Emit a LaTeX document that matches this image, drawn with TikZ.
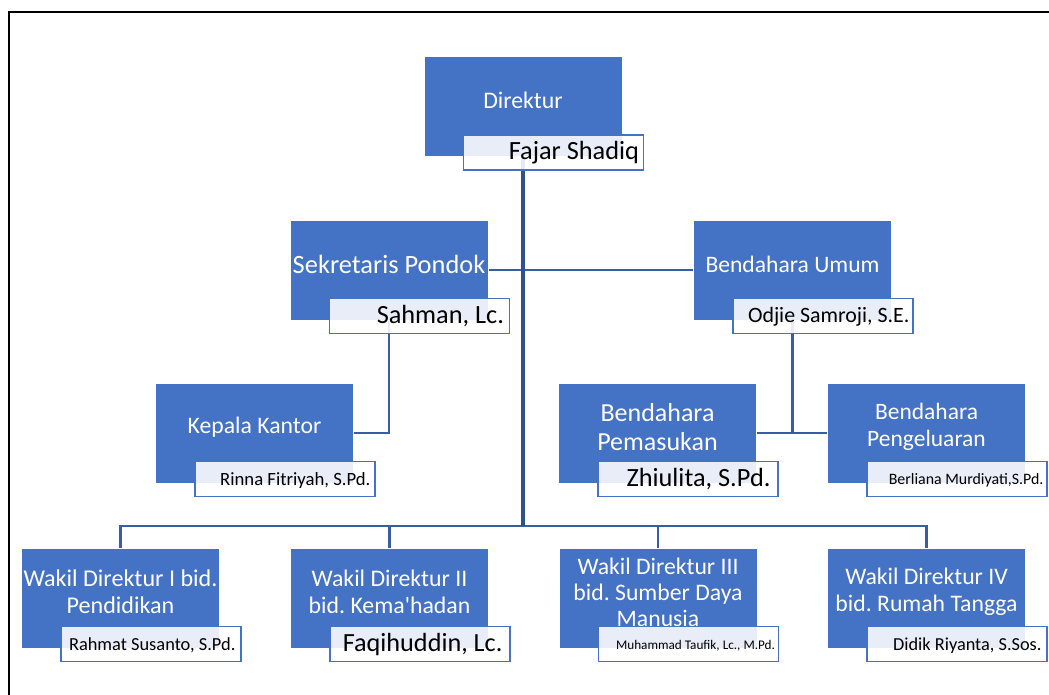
\documentclass[tikz,border=0pt]{standalone}
\usepackage{fontspec}
\setmainfont{Carlito}[Ligatures=TeXOff]
\usetikzlibrary{backgrounds,calc}
\definecolor{obl}{RGB}{68,114,196}
\definecolor{connc}{RGB}{56,93,165}
\definecolor{trunkc}{RGB}{47,82,143}
\newcommand{\myfs}[2]{\fontsize{#1}{#2}\selectfont}
\frenchspacing
\tikzset{
  bluebox/.style={rectangle, fill=obl, draw=white, line width=0.8pt, minimum width=198pt, minimum height=100pt, inner sep=0pt},
  namebox/.style={rectangle, fill=white, fill opacity=0.88, draw=obl, line width=1.6pt, minimum width=180pt, minimum height=35pt, inner sep=0pt},
  btext/.style={text=white, align=center, inner sep=0pt},
  ntext/.style={text=black, inner sep=0pt, anchor=mid east},
  cline/.style={draw=connc, line width=2.2pt},
  tline/.style={draw=trunkc, line width=4pt},
}
\begin{document}
\begin{tikzpicture}[x=1pt,y=-1pt]
\useasboundingbox (0,0) rectangle (1049,695);
\draw[black, line width=1.8pt] (9,695) -- (9,12) -- (1049,12);

% blue boxes
\node[bluebox] (dir) at (523,106.5) {};
\node[bluebox] (sek) at (389,270) {};
\node[bluebox] (ben) at (792.5,270) {};
\node[bluebox] (kep) at (254.5,433) {};
\node[bluebox] (pem) at (657.5,433) {};
\node[bluebox] (pen) at (926.5,433) {};
\node[bluebox] (w1) at (120.5,598) {};
\node[bluebox] (w2) at (389.5,598) {};
\node[bluebox] (w3) at (658,598) {};
\node[bluebox] (w4) at (926.5,598) {};

% titles
\node[btext, font=\myfs{23.8}{27}] (dirT) at ($(dir.center)+(0,-6)$) {Direktur};
\node[btext, font=\myfs{26.4}{29}] (sekT) at ($(sek.center)+(0,-6)$) {Sekretaris Pondok};
\node[btext, font=\myfs{23.6}{27}] (benT) at ($(ben.center)+(0,-6)$) {Bendahara Umum};
\node[btext, font=\myfs{23.7}{27}] (kepT) at ($(kep.center)+(0,-6)$) {Kepala Kantor};
\node[btext, font=\myfs{26}{29}] (pemT) at ($(pem.center)+(0,-6)$) {Bendahara\\Pemasukan};
\node[btext, font=\myfs{23.5}{27}] (penT) at ($(pen.center)+(0,-6)$) {Bendahara\\Pengeluaran};
\node[btext, font=\myfs{24.1}{27}] (w1T) at ($(w1.center)+(0,-6)$) {Wakil Direktur I bid.\\Pendidikan};
\node[btext, font=\myfs{23.8}{27}] (w2T) at ($(w2.center)+(0,-6)$) {Wakil Direktur II\\bid. Kema'hadan};
\node[btext, font=\myfs{23.7}{26}] (w3T) at ($(w3.center)+(0,-6)$) {Wakil Direktur III\\bid. Sumber Daya\\Manusia};
\node[btext, font=\myfs{23.7}{27}] (w4T) at ($(w4.center)+(0,-6)$) {Wakil Direktur IV\\bid. Rumah Tangga};

% name boxes
\foreach \b in {dir,sek,ben,kep,pem,pen,w1,w2,w3,w4}{
  \node[namebox] (\b N) at ($(\b.south east)+(-69,-4.5)$) {};
}

% names
\node[ntext, font=\myfs{26.3}{30}] (dirNT) at ($(dirN.east)+(-5,5)$) {Fajar Shadiq};
\node[ntext, font=\myfs{26.3}{30}] (sekNT) at ($(sekN.east)+(-6,5)$) {Sahman, Lc.};
\node[ntext, font=\myfs{21.9}{25}] (benNT) at ($(benN.east)+(-4,4.5)$) {Odjie Samroji, S.E.};
\node[ntext, font=\myfs{18.7}{22}] (kepNT) at ($(kepN.east)+(-5,4)$) {Rinna Fitriyah, S.Pd.};
\node[ntext, font=\myfs{26.3}{30}] (pemNT) at ($(pemN.east)+(-8,5)$) {Zhiulita, S.Pd.};
\node[ntext, font=\myfs{15.9}{19}] (penNT) at ($(penN.east)+(-4,3.5)$) {Berliana Murdiyati,S.Pd.};
\node[ntext, font=\myfs{18.4}{22}] (w1NT) at ($(w1N.east)+(-6,4)$) {Rahmat Susanto, S.Pd.};
\node[ntext, font=\myfs{26.2}{30}] (w2NT) at ($(w2N.east)+(-8,5)$) {Faqihuddin, Lc.};
\node[ntext, font=\myfs{13.2}{16}] (w3NT) at ($(w3N.east)+(-4,3)$) {Muhammad Taufik, Lc., M.Pd.};
\node[ntext, font=\myfs{18.3}{22}] (w4NT) at ($(w4N.east)+(-6,4)$) {Didik Riyanta, S.Sos.};

\coordinate (bus) at (523,526);

\begin{scope}[on background layer]
  \draw[cline] (sek.east) -- (ben.west);
  \draw[cline] (sek.south) |- (kep.east);
  \draw[cline] (pem.east) -- (pen.west);
  \draw[cline] (ben.south) -- (ben.south |- pem.east);
  \draw[cline] (w1.north) |- (bus) -| (w4.north);
  \draw[cline] (w2.north) -- (w2.north |- bus);
  \draw[cline] (w3.north) -- (w3.north |- bus);
  \draw[tline] (dir.south) -- (bus);
\end{scope}
\end{tikzpicture}
\end{document}
